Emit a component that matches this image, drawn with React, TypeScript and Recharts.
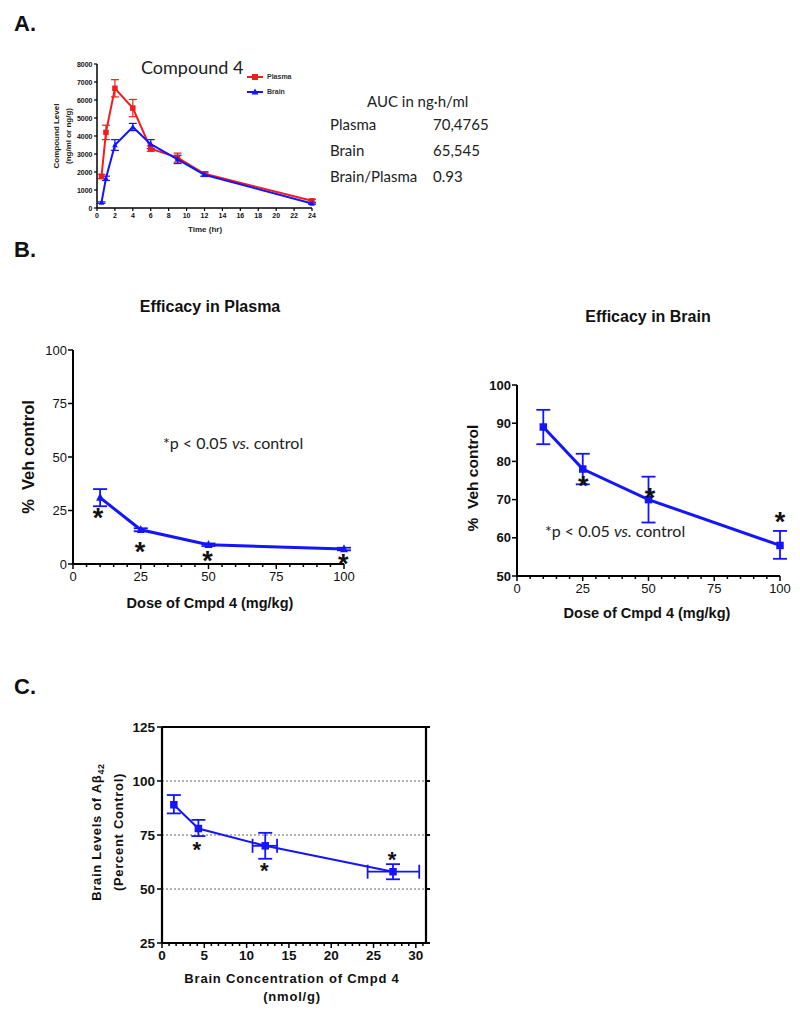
import React from 'react'
import { ScatterChart, Scatter, XAxis, YAxis, ErrorBar, CartesianGrid, Legend } from 'recharts'

const ARIAL = '"Liberation Sans", Arial, Helvetica, sans-serif'
const CALIBRI = 'Lato, "Open Sans", sans-serif'
const BLUE = '#1414ff'
const RED = '#f01d1d'

// A. PK profile of compound 4
const pkTimes = [0.5, 1, 2, 4, 6, 9, 12, 24]
const plasmaLevel = [1750, 4200, 6650, 5550, 3300, 2800, 1900, 400]
const plasmaSem = [120, 400, 480, 480, 150, 250, 120, 80]
const brainLevel = [300, 1650, 3500, 4500, 3550, 2700, 1850, 250]
const brainSem = [40, 120, 300, 200, 250, 230, 100, 40]
const pkTimeTicks = [0, 2, 4, 6, 8, 10, 12, 14, 16, 18, 20, 22, 24]
const pkLevelTicks = [0, 1000, 2000, 3000, 4000, 5000, 6000, 7000, 8000]
const pkSeries = ['Plasma', 'Brain']
const aucNames = ['Plasma', 'Brain', 'Brain/Plasma']
const aucValues = ['70,4765', '65,545', '0.93']

// B. efficacy vs dose
const doses = [10, 25, 50, 100]
const plasmaEff = [31, 16, 9, 7]
const plasmaEffLow = [27, 15.3, 8.4, 6.4]
const plasmaEffHigh = [35, 16.7, 9.6, 7.6]
const plasmaStarX = [9.2, 24.7, 49.6, 99.7]
const plasmaStarY = [24.4, 8.9, 4.6, 2.9]
const brainEff = [89, 78, 70, 58]
const brainEffLow = [84.5, 74, 64, 54.5]
const brainEffHigh = [93.5, 82, 76, 61.8]
const brainStarX = [25.2, 50.6, 100]
const brainStarY = [75.3, 72.1, 66.0]
const doseTicks = [0, 5, 10, 15, 20, 25, 30, 35, 40, 45, 50, 55, 60, 65, 70, 75, 80, 85, 90, 95, 100]
const doseLabels = [0, 25, 50, 75, 100]
const plasmaEffTicks = [0, 25, 50, 75, 100]
const brainEffTicks = [50, 60, 70, 80, 90, 100]

// C. brain Abeta42 vs brain concentration
const brainConc = [1.4, 4.3, 12.2, 27.3]
const brainConcLow = [null, null, 10.7, 24.3]
const brainConcHigh = [null, null, 13.6, 30.4]
const abeta = [89, 78, 70, 58]
const abetaLow = [85, 74.5, 64, 54.5]
const abetaHigh = [93.5, 82, 76, 61.5]
const abetaStarX = [4.1, 12.1, 27.2]
const abetaStarY = [70.6, 61.1, 66.2]
const concLabels = [0, 5, 10, 15, 20, 25, 30]
const concTicks = Array.from({ length: 38 }, (_, i) => (i * 5) / 6)
const abetaTicks = [25, 50, 75, 100, 125]

const span = (v: number, lo: number | null, hi: number | null) =>
  lo == null || hi == null ? null : [v - lo, hi - v]

const pkPlasma = pkTimes.map((t, i) => ({ x: t, y: plasmaLevel[i], ey: plasmaSem[i] }))
const pkBrain = pkTimes.map((t, i) => ({ x: t, y: brainLevel[i], ey: brainSem[i] }))
const effPlasma = doses.map((d, i) => ({ x: d, y: plasmaEff[i], ey: span(plasmaEff[i], plasmaEffLow[i], plasmaEffHigh[i]) }))
const effBrain = doses.map((d, i) => ({ x: d, y: brainEff[i], ey: span(brainEff[i], brainEffLow[i], brainEffHigh[i]) }))
const abetaRows = brainConc.map((c, i) => ({
  x: c,
  y: abeta[i],
  ex: span(c, brainConcLow[i], brainConcHigh[i]),
  ey: span(abeta[i], abetaLow[i], abetaHigh[i]),
}))
const stars = (xs: number[], ys: number[]) => xs.map((x, i) => ({ x, y: ys[i] }))

type TickOpts = {
  side: 'bottom' | 'top' | 'left' | 'right'
  majors?: number[]
  len: number
  minorLen?: number
  fontSize?: number
  bold?: boolean
  gap?: number
  sw?: number
  noLabel?: boolean
}

// draws tick line + label ourselves so minor ticks are possible
function makeTick(o: TickOpts) {
  return (props: any) => {
    const { x, y, payload } = props
    const v = Number(payload.value)
    const major = !o.majors || o.majors.some((m) => Math.abs(m - v) < 1e-6)
    const len = major ? o.len : o.minorLen ?? 0
    const fs = o.fontSize ?? 12
    const gap = o.gap ?? 2
    let x2 = x
    let y2 = y
    let tx = x
    let ty = y
    let anchor: 'start' | 'middle' | 'end' = 'middle'
    if (o.side === 'bottom') {
      y2 = y + len
      ty = y + len + gap + fs * 0.72
    } else if (o.side === 'top') {
      y2 = y - len
      ty = y - len - gap
    } else if (o.side === 'left') {
      x2 = x - len
      tx = x - len - gap
      ty = y + fs * 0.36
      anchor = 'end'
    } else {
      x2 = x + len
      tx = x + len + gap
      ty = y + fs * 0.36
      anchor = 'start'
    }
    return (
      <g>
        <line x1={x} y1={y} x2={x2} y2={y2} stroke="#000" strokeWidth={o.sw ?? 1.5} />
        {major && !o.noLabel && (
          <text x={tx} y={ty} textAnchor={anchor} fontSize={fs} fontFamily={ARIAL} fontWeight={o.bold ? 700 : 400} fill="#111">
            {v}
          </text>
        )}
      </g>
    )
  }
}

const squareShape = (s: number, fill: string) => (p: any) => (
  <rect x={p.cx - s / 2} y={p.cy - s / 2} width={s} height={s} fill={fill} />
)
const triangleShape = (s: number, fill: string) => (p: any) => (
  <polygon points={`${p.cx},${p.cy - s * 0.6} ${p.cx - s / 2},${p.cy + s * 0.4} ${p.cx + s / 2},${p.cy + s * 0.4}`} fill={fill} />
)
const starShape = (fs: number) => (p: any) => (
  <text x={p.cx} y={p.cy + fs * 0.58} textAnchor="middle" fontSize={fs} fontWeight={700} fontFamily={ARIAL} fill="#111">
    *
  </text>
)

function Txt({ x, y, size, children, bold, italic, font = ARIAL, align = 'center', rotate = false, color = '#111', spacing = 0 }: any) {
  const tx = align === 'center' ? '-50%' : align === 'right' ? '-100%' : '0'
  return (
    <div
      style={{
        position: 'absolute',
        left: x,
        top: y,
        transform: `translate(${tx}, -50%)${rotate ? ' rotate(-90deg)' : ''}`,
        fontFamily: font,
        fontSize: size,
        fontWeight: bold ? 700 : 400,
        fontStyle: italic ? 'italic' : 'normal',
        letterSpacing: spacing,
        color,
        whiteSpace: 'pre',
        lineHeight: 1.15,
      }}
    >
      {children}
    </div>
  )
}

const axisLine = (w: number) => ({ stroke: '#000', strokeWidth: w })

function PkLegend(props: any) {
  const items = [...(props.payload || [])].sort((a: any, b: any) => pkSeries.indexOf(a.value) - pkSeries.indexOf(b.value))
  return (
    <div style={{ fontFamily: ARIAL, fontSize: 7, fontWeight: 700, color: '#333' }}>
      {items.map((e: any) => (
        <div key={e.value} style={{ display: 'flex', alignItems: 'center', height: 15 }}>
          <svg width={18} height={8} style={{ marginRight: 3 }}>
            <line x1={1} y1={4} x2={17} y2={4} stroke={e.color} strokeWidth={2} />
            {e.value === 'Plasma' ? (
              <rect x={6} y={1} width={6} height={6} fill={e.color} />
            ) : (
              <polygon points="9,0.5 5.5,6.5 12.5,6.5" fill={e.color} />
            )}
          </svg>
          <span>{e.value}</span>
        </div>
      ))}
    </div>
  )
}

function PanelA() {
  return (
    <div style={{ position: 'absolute', left: 40, top: 50 }}>
      <ScatterChart width={290} height={185} margin={{ top: 14, right: 18, bottom: 7, left: 27 }}>
        <XAxis
          type="number"
          dataKey="x"
          domain={[0, 24]}
          ticks={pkTimeTicks}
          interval={0}
          tickSize={0}
          tickMargin={0}
          tickLine={false}
          height={20}
          axisLine={axisLine(1.5)}
          tick={makeTick({ side: 'bottom', len: 3, fontSize: 7, bold: true, gap: 1.5, sw: 1.2 })}
        />
        <YAxis
          type="number"
          dataKey="y"
          domain={[0, 8000]}
          ticks={pkLevelTicks}
          interval={0}
          tickSize={0}
          tickMargin={0}
          tickLine={false}
          width={30}
          axisLine={axisLine(1.5)}
          tick={makeTick({ side: 'left', len: 3, fontSize: 7, bold: true, gap: 1.5, sw: 1.2 })}
        />
        <Legend
          layout="vertical"
          align="center"
          verticalAlign="middle"
          wrapperStyle={{ left: 206, top: 19, width: 70, height: 30 }}
          content={PkLegend}
        />
        <Scatter name="Plasma" data={pkPlasma} fill={RED} line={{ stroke: RED, strokeWidth: 2 }} shape={squareShape(5.5, RED)} isAnimationActive={false}>
          <ErrorBar dataKey="ey" direction="y" width={4} stroke={RED} strokeWidth={1.2} isAnimationActive={false} />
        </Scatter>
        <Scatter name="Brain" data={pkBrain} fill={BLUE} line={{ stroke: BLUE, strokeWidth: 2 }} shape={triangleShape(5.5, BLUE)} isAnimationActive={false}>
          <ErrorBar dataKey="ey" direction="y" width={4} stroke={BLUE} strokeWidth={1.2} isAnimationActive={false} />
        </Scatter>
      </ScatterChart>
    </div>
  )
}

function PanelBPlasma() {
  return (
    <div style={{ position: 'absolute', left: 0, top: 330 }}>
      <ScatterChart width={360} height={290} margin={{ top: 20, right: 16, bottom: 31, left: 33 }}>
        <XAxis
          type="number"
          dataKey="x"
          domain={[0, 100]}
          ticks={doseTicks}
          interval={0}
          tickSize={0}
          tickMargin={0}
          tickLine={false}
          height={25}
          axisLine={axisLine(2)}
          tick={makeTick({ side: 'bottom', majors: doseLabels, len: 5, minorLen: 3, fontSize: 13, gap: 3, sw: 1.5 })}
        />
        <YAxis
          type="number"
          dataKey="y"
          domain={[0, 100]}
          ticks={plasmaEffTicks}
          interval={0}
          tickSize={0}
          tickMargin={0}
          tickLine={false}
          width={40}
          axisLine={axisLine(2)}
          tick={makeTick({ side: 'left', len: 5, fontSize: 13, gap: 1, sw: 1.5 })}
        />
        <Scatter data={effPlasma} fill={BLUE} line={{ stroke: BLUE, strokeWidth: 3 }} shape={triangleShape(8, BLUE)} isAnimationActive={false}>
          <ErrorBar dataKey="ey" direction="y" width={7} stroke={BLUE} strokeWidth={1.8} isAnimationActive={false} />
        </Scatter>
        <Scatter data={stars(plasmaStarX, plasmaStarY)} fill="#111" shape={starShape(27)} isAnimationActive={false} />
      </ScatterChart>
    </div>
  )
}

function PanelBBrain() {
  return (
    <div style={{ position: 'absolute', left: 440, top: 360 }}>
      <ScatterChart width={360} height={270} margin={{ top: 25, right: 20, bottom: 29, left: 37 }}>
        <XAxis
          type="number"
          dataKey="x"
          domain={[0, 100]}
          ticks={doseTicks}
          interval={0}
          tickSize={0}
          tickMargin={0}
          tickLine={false}
          height={25}
          axisLine={axisLine(2)}
          tick={makeTick({ side: 'bottom', majors: doseLabels, len: 5, minorLen: 3, fontSize: 13, gap: 3, sw: 1.5 })}
        />
        <YAxis
          type="number"
          dataKey="y"
          domain={[50, 100]}
          ticks={brainEffTicks}
          interval={0}
          tickSize={0}
          tickMargin={0}
          tickLine={false}
          width={40}
          axisLine={axisLine(2)}
          tick={makeTick({ side: 'left', len: 5, fontSize: 13, bold: true, gap: 1, sw: 1.5 })}
        />
        <Scatter data={effBrain} fill={BLUE} line={{ stroke: BLUE, strokeWidth: 3 }} shape={squareShape(7.5, BLUE)} isAnimationActive={false}>
          <ErrorBar dataKey="ey" direction="y" width={7} stroke={BLUE} strokeWidth={1.8} isAnimationActive={false} />
        </Scatter>
        <Scatter data={stars(brainStarX, brainStarY)} fill="#111" shape={starShape(27)} isAnimationActive={false} />
      </ScatterChart>
    </div>
  )
}

function PanelC() {
  return (
    <div style={{ position: 'absolute', left: 100, top: 700 }}>
      <ScatterChart width={350} height={270} margin={{ top: 17, right: 14, bottom: 2, left: 22 }}>
        <CartesianGrid vertical={false} stroke="#666" strokeDasharray="2 2" strokeWidth={1} />
        <XAxis
          type="number"
          dataKey="x"
          domain={[0, 31.2]}
          ticks={concTicks}
          interval={0}
          tickSize={0}
          tickMargin={0}
          tickLine={false}
          height={25}
          axisLine={axisLine(2.2)}
          tick={makeTick({ side: 'bottom', majors: concLabels, len: 5, minorLen: 3, fontSize: 13.5, bold: true, gap: 2, sw: 1.5 })}
        />
        <XAxis
          xAxisId="top"
          orientation="top"
          type="number"
          domain={[0, 31.2]}
          ticks={concTicks}
          interval={0}
          tickSize={0}
          tickMargin={0}
          tickLine={false}
          height={10}
          axisLine={axisLine(2.2)}
          tick={makeTick({ side: 'top', majors: concLabels, len: 5, minorLen: 3, noLabel: true, sw: 1.5 })}
          allowDataOverflow
        />
        <YAxis
          type="number"
          dataKey="y"
          domain={[25, 125]}
          ticks={abetaTicks}
          interval={0}
          tickSize={0}
          tickMargin={0}
          tickLine={false}
          width={40}
          axisLine={axisLine(2.2)}
          tick={makeTick({ side: 'left', len: 5, fontSize: 13.5, bold: true, gap: 2, sw: 1.5 })}
        />
        <YAxis
          yAxisId="r"
          orientation="right"
          type="number"
          domain={[25, 125]}
          ticks={abetaTicks}
          interval={0}
          tickSize={0}
          tickMargin={0}
          tickLine={false}
          width={10}
          axisLine={axisLine(2.2)}
          tick={makeTick({ side: 'right', len: 4, noLabel: true, sw: 2 })}
          allowDataOverflow
        />
        <Scatter data={abetaRows} fill={BLUE} line={{ stroke: BLUE, strokeWidth: 2 }} shape={squareShape(7.5, BLUE)} isAnimationActive={false}>
          <ErrorBar dataKey="ey" direction="y" width={7} stroke={BLUE} strokeWidth={1.8} isAnimationActive={false} />
          <ErrorBar dataKey="ex" direction="x" width={7} stroke={BLUE} strokeWidth={1.8} isAnimationActive={false} />
        </Scatter>
        <Scatter data={stars(abetaStarX, abetaStarY)} fill="#111" shape={starShape(22)} isAnimationActive={false} />
      </ScatterChart>
    </div>
  )
}

export default function App() {
  return (
    <div style={{ position: 'absolute', left: 0, top: 0, width: 800, height: 1013, background: '#fff', overflow: 'hidden' }}>
      <Txt x={14} y={24} size={22} bold align="left">A.</Txt>
      <Txt x={14} y={250} size={22} bold align="left">B.</Txt>
      <Txt x={14} y={687} size={22} bold align="left">C.</Txt>

      {/* panel A */}
      <PanelA />
      <Txt x={141} y={67} size={18} font={CALIBRI} align="left" color="#222">Compound 4</Txt>
      <Txt x={57} y={136} size={8} bold rotate color="#222">Compound Level</Txt>
      <Txt x={69} y={136} size={8} bold rotate color="#222">(ng/ml or ng/g)</Txt>
      <Txt x={205} y={230} size={8} bold color="#222">Time (hr)</Txt>
      <Txt x={367} y={102} size={15} font={CALIBRI} align="left" color="#222">AUC in ng·h/ml</Txt>
      {aucNames.map((n, i) => (
        <React.Fragment key={n}>
          <Txt x={330} y={125 + i * 26} size={15} font={CALIBRI} align="left" color="#222">{n}</Txt>
          <Txt x={433} y={125 + i * 26} size={15} font={CALIBRI} align="left" color="#222">{aucValues[i]}</Txt>
        </React.Fragment>
      ))}

      {/* panel B */}
      <PanelBPlasma />
      <Txt x={210} y={307} size={16} bold>Efficacy in Plasma</Txt>
      <Txt x={28} y={457} size={16.5} bold rotate>{'%  Veh control'}</Txt>
      <Txt x={210} y={603} size={14.5} bold>Dose of Cmpd 4 (mg/kg)</Txt>
      <Txt x={163} y={443} size={16} font={CALIBRI} align="left" color="#222">
        *p &lt; 0.05 <i>vs.</i> control
      </Txt>

      <PanelBBrain />
      <Txt x={648} y={317} size={16} bold>Efficacy in Brain</Txt>
      <Txt x={473} y={478} size={15.5} bold rotate>{'%  Veh control'}</Txt>
      <Txt x={647} y={613} size={14.5} bold>Dose of Cmpd 4 (mg/kg)</Txt>
      <Txt x={545} y={531} size={16} font={CALIBRI} align="left" color="#222">
        *p &lt; 0.05 <i>vs.</i> control
      </Txt>

      {/* panel C */}
      <PanelC />
      <Txt x={98} y={832} size={13} bold rotate spacing={0.7}>
        Brain Levels of Aβ<sub style={{ fontSize: 9 }}>42</sub>
      </Txt>
      <Txt x={119} y={832} size={13} bold rotate spacing={0.7}>(Percent Control)</Txt>
      <Txt x={292} y={979} size={13} bold spacing={0.8}>Brain Concentration of Cmpd 4</Txt>
      <Txt x={292} y={997} size={13} bold spacing={0.8}>(nmol/g)</Txt>
    </div>
  )
}
